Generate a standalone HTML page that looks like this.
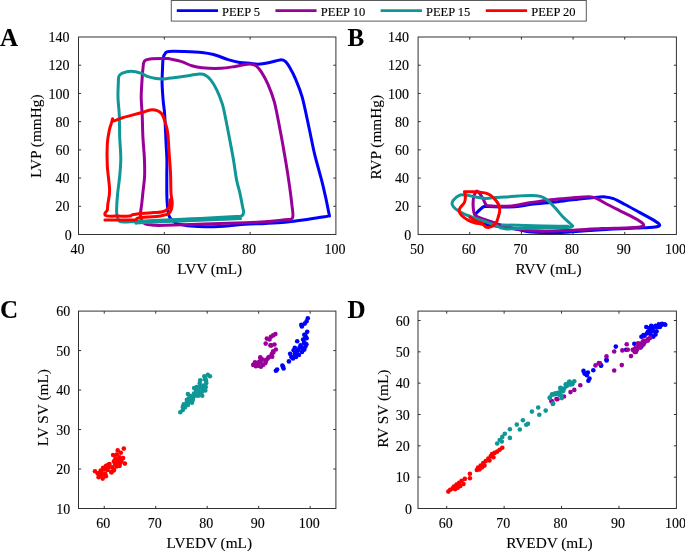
<!DOCTYPE html>
<html><head><meta charset="utf-8"><style>
html,body{margin:0;padding:0;background:#fff;}
svg{display:block;will-change:transform}
text{font-family:"Liberation Serif", serif;fill:#000;stroke:#000;stroke-width:0.12px}
.tl{font-size:14px}
.al{font-size:15.3px}
.lg{font-size:12.5px}
.pl{font-size:25px;font-weight:bold}
</style></head><body>
<svg width="685" height="551" viewBox="0 0 685 551">
<rect x="78.5" y="37.0" width="257.40" height="197.50" fill="none" stroke="#333333" stroke-width="1"/>
<path d="M164.30,234.5v-2.6M164.30,37.0v2.6M250.10,234.5v-2.6M250.10,37.0v2.6M78.5,206.29h2.6M335.9,206.29h-2.6M78.5,178.07h2.6M335.9,178.07h-2.6M78.5,149.86h2.6M335.9,149.86h-2.6M78.5,121.64h2.6M335.9,121.64h-2.6M78.5,93.43h2.6M335.9,93.43h-2.6M78.5,65.21h2.6M335.9,65.21h-2.6" stroke="#333333" stroke-width="1" fill="none"/>
<text x="77.50" y="254.10" text-anchor="middle" class="tl">40</text>
<text x="163.30" y="254.10" text-anchor="middle" class="tl">60</text>
<text x="249.10" y="254.10" text-anchor="middle" class="tl">80</text>
<text x="334.90" y="254.10" text-anchor="middle" class="tl">100</text>
<text x="71.70" y="239.60" text-anchor="end" class="tl">0</text>
<text x="69.50" y="211.39" text-anchor="end" class="tl">20</text>
<text x="69.50" y="183.17" text-anchor="end" class="tl">40</text>
<text x="69.50" y="154.96" text-anchor="end" class="tl">60</text>
<text x="69.50" y="126.74" text-anchor="end" class="tl">80</text>
<text x="69.50" y="98.53" text-anchor="end" class="tl">100</text>
<text x="69.50" y="70.31" text-anchor="end" class="tl">120</text>
<text x="69.50" y="42.10" text-anchor="end" class="tl">140</text>
<rect x="418.1" y="37.0" width="258.30" height="197.50" fill="none" stroke="#333333" stroke-width="1"/>
<path d="M469.76,234.5v-2.6M469.76,37.0v2.6M521.42,234.5v-2.6M521.42,37.0v2.6M573.08,234.5v-2.6M573.08,37.0v2.6M624.74,234.5v-2.6M624.74,37.0v2.6M418.1,206.29h2.6M676.4,206.29h-2.6M418.1,178.07h2.6M676.4,178.07h-2.6M418.1,149.86h2.6M676.4,149.86h-2.6M418.1,121.64h2.6M676.4,121.64h-2.6M418.1,93.43h2.6M676.4,93.43h-2.6M418.1,65.21h2.6M676.4,65.21h-2.6" stroke="#333333" stroke-width="1" fill="none"/>
<text x="417.10" y="254.10" text-anchor="middle" class="tl">50</text>
<text x="468.76" y="254.10" text-anchor="middle" class="tl">60</text>
<text x="520.42" y="254.10" text-anchor="middle" class="tl">70</text>
<text x="572.08" y="254.10" text-anchor="middle" class="tl">80</text>
<text x="623.74" y="254.10" text-anchor="middle" class="tl">90</text>
<text x="675.40" y="254.10" text-anchor="middle" class="tl">100</text>
<text x="411.30" y="239.60" text-anchor="end" class="tl">0</text>
<text x="409.10" y="211.39" text-anchor="end" class="tl">20</text>
<text x="409.10" y="183.17" text-anchor="end" class="tl">40</text>
<text x="409.10" y="154.96" text-anchor="end" class="tl">60</text>
<text x="409.10" y="126.74" text-anchor="end" class="tl">80</text>
<text x="409.10" y="98.53" text-anchor="end" class="tl">100</text>
<text x="409.10" y="70.31" text-anchor="end" class="tl">120</text>
<text x="409.10" y="42.10" text-anchor="end" class="tl">140</text>
<rect x="78.5" y="311.1" width="257.40" height="197.40" fill="none" stroke="#333333" stroke-width="1"/>
<path d="M104.24,508.5v-2.6M104.24,311.1v2.6M155.72,508.5v-2.6M155.72,311.1v2.6M207.20,508.5v-2.6M207.20,311.1v2.6M258.68,508.5v-2.6M258.68,311.1v2.6M310.16,508.5v-2.6M310.16,311.1v2.6M78.5,469.02h2.6M335.9,469.02h-2.6M78.5,429.54h2.6M335.9,429.54h-2.6M78.5,390.06h2.6M335.9,390.06h-2.6M78.5,350.58h2.6M335.9,350.58h-2.6" stroke="#333333" stroke-width="1" fill="none"/>
<text x="103.24" y="528.10" text-anchor="middle" class="tl">60</text>
<text x="154.72" y="528.10" text-anchor="middle" class="tl">70</text>
<text x="206.20" y="528.10" text-anchor="middle" class="tl">80</text>
<text x="257.68" y="528.10" text-anchor="middle" class="tl">90</text>
<text x="309.16" y="528.10" text-anchor="middle" class="tl">100</text>
<text x="70.30" y="513.60" text-anchor="end" class="tl">10</text>
<text x="70.30" y="474.12" text-anchor="end" class="tl">20</text>
<text x="70.30" y="434.64" text-anchor="end" class="tl">30</text>
<text x="70.30" y="395.16" text-anchor="end" class="tl">40</text>
<text x="70.30" y="355.68" text-anchor="end" class="tl">50</text>
<text x="70.30" y="316.20" text-anchor="end" class="tl">60</text>
<rect x="418.0" y="311.1" width="258.40" height="197.40" fill="none" stroke="#333333" stroke-width="1"/>
<path d="M446.71,508.5v-2.6M446.71,311.1v2.6M504.13,508.5v-2.6M504.13,311.1v2.6M561.56,508.5v-2.6M561.56,311.1v2.6M618.98,508.5v-2.6M618.98,311.1v2.6M418.0,477.17h2.6M676.4,477.17h-2.6M418.0,445.83h2.6M676.4,445.83h-2.6M418.0,414.50h2.6M676.4,414.50h-2.6M418.0,383.17h2.6M676.4,383.17h-2.6M418.0,351.83h2.6M676.4,351.83h-2.6M418.0,320.50h2.6M676.4,320.50h-2.6" stroke="#333333" stroke-width="1" fill="none"/>
<text x="445.71" y="528.10" text-anchor="middle" class="tl">60</text>
<text x="503.13" y="528.10" text-anchor="middle" class="tl">70</text>
<text x="560.56" y="528.10" text-anchor="middle" class="tl">80</text>
<text x="617.98" y="528.10" text-anchor="middle" class="tl">90</text>
<text x="675.40" y="528.10" text-anchor="middle" class="tl">100</text>
<text x="412.00" y="513.60" text-anchor="end" class="tl">0</text>
<text x="409.80" y="482.27" text-anchor="end" class="tl">10</text>
<text x="409.80" y="450.93" text-anchor="end" class="tl">20</text>
<text x="409.80" y="419.60" text-anchor="end" class="tl">30</text>
<text x="409.80" y="388.27" text-anchor="end" class="tl">40</text>
<text x="409.80" y="356.93" text-anchor="end" class="tl">50</text>
<text x="409.80" y="325.60" text-anchor="end" class="tl">60</text>
<text x="209.7" y="274.0" text-anchor="middle" class="al">LVV (mL)</text>
<text x="548.5" y="274.0" text-anchor="middle" class="al">RVV (mL)</text>
<text x="209.3" y="548.0" text-anchor="middle" class="al">LVEDV (mL)</text>
<text x="549.5" y="548.0" text-anchor="middle" class="al">RVEDV (mL)</text>
<text x="41" y="136.2" text-anchor="middle" class="al" transform="rotate(-90 41 136.2)">LVP (mmHg)</text>
<text x="381" y="137.2" text-anchor="middle" class="al" transform="rotate(-90 381 137.2)">RVP (mmHg)</text>
<text x="48" y="407.7" text-anchor="middle" class="al" transform="rotate(-90 48 407.7)">LV SV (mL)</text>
<text x="388" y="408.7" text-anchor="middle" class="al" transform="rotate(-90 388 408.7)">RV SV (mL)</text>
<text x="0" y="45.5" class="pl">A</text>
<text x="347.4" y="45.5" class="pl">B</text>
<text x="0" y="317.7" class="pl">C</text>
<text x="347.4" y="317.7" class="pl">D</text>
<path d="M172.90,220.70C172.23,219.83 169.88,219.00 168.90,215.50C167.92,212.00 167.35,206.45 167.00,199.70C166.65,192.95 166.82,181.62 166.80,175.00C166.78,168.38 167.02,165.17 166.90,160.00C166.78,154.83 166.47,151.50 166.10,144.00C165.73,136.50 165.18,122.17 164.70,115.00C164.22,107.83 163.63,106.23 163.20,101.00C162.77,95.77 162.22,88.93 162.10,83.60C161.98,78.27 162.32,73.27 162.50,69.00C162.68,64.73 162.70,60.67 163.20,58.00C163.70,55.33 164.53,54.10 165.50,53.00C166.47,51.90 165.83,51.65 169.00,51.40C172.17,51.15 179.02,51.33 184.50,51.50C189.98,51.67 197.05,51.90 201.90,52.40C206.75,52.90 209.23,53.30 213.60,54.50C217.97,55.70 223.75,58.27 228.10,59.60C232.45,60.93 236.05,61.90 239.70,62.50C243.35,63.10 246.93,62.92 250.00,63.20C253.07,63.48 254.85,64.32 258.10,64.20C261.35,64.08 265.83,63.22 269.50,62.50C273.17,61.78 277.52,60.12 280.10,59.90C282.68,59.68 283.37,59.88 285.00,61.20C286.63,62.52 288.13,64.80 289.90,67.80C291.67,70.80 293.55,74.30 295.60,79.20C297.65,84.10 299.88,88.73 302.20,97.20C304.52,105.67 307.40,120.38 309.50,130.00C311.60,139.62 312.58,145.75 314.80,154.90C317.02,164.05 320.47,175.25 322.80,184.90C325.13,194.55 327.85,207.62 328.80,212.80C329.75,217.98 329.83,215.27 328.50,216.00C327.17,216.73 324.73,216.57 320.80,217.20C316.87,217.83 310.88,218.97 304.90,219.80C298.92,220.63 291.55,221.60 284.90,222.20C278.25,222.80 271.65,223.07 265.00,223.40C258.35,223.73 251.82,223.73 245.00,224.20C238.18,224.67 231.97,225.80 224.10,226.20C216.23,226.60 205.47,226.97 197.80,226.60C190.13,226.23 182.25,224.98 178.10,224.00C173.95,223.02 173.77,221.25 172.90,220.70" fill="none" stroke="#0000ff" stroke-width="3.0" stroke-linejoin="round" stroke-linecap="round"/>
<path d="M141.10,219.40C141.00,218.42 140.40,216.03 140.50,213.50C140.60,210.97 141.30,207.70 141.70,204.20C142.10,200.70 142.42,197.20 142.90,192.50C143.38,187.80 144.35,181.65 144.60,176.00C144.85,170.35 144.68,165.13 144.40,158.60C144.12,152.07 143.27,144.07 142.90,136.80C142.53,129.53 142.48,121.45 142.20,115.00C141.92,108.55 141.27,103.33 141.20,98.10C141.13,92.87 141.52,88.45 141.80,83.60C142.08,78.75 142.47,72.75 142.90,69.00C143.33,65.25 143.18,62.78 144.40,61.10C145.62,59.42 146.33,59.32 150.20,58.90C154.07,58.48 164.30,58.60 167.60,58.60C170.90,58.60 167.67,58.40 170.00,58.90C172.33,59.40 177.97,60.45 181.60,61.60C185.23,62.75 188.42,64.77 191.80,65.80C195.18,66.83 197.07,67.38 201.90,67.80C206.73,68.22 215.23,68.53 220.80,68.30C226.37,68.07 231.18,67.05 235.30,66.40C239.42,65.75 242.80,64.77 245.50,64.40C248.20,64.03 249.68,63.92 251.50,64.20C253.32,64.48 254.77,64.82 256.40,66.10C258.03,67.38 259.38,68.90 261.30,71.90C263.22,74.90 265.72,79.07 267.90,84.10C270.08,89.13 272.37,94.45 274.40,102.10C276.43,109.75 278.68,122.85 280.10,130.00C281.52,137.15 281.60,137.52 282.90,145.00C284.20,152.48 286.40,164.93 287.90,174.90C289.40,184.87 291.13,197.65 291.90,204.80C292.67,211.95 293.67,215.30 292.50,217.80C291.33,220.30 289.48,219.13 284.90,219.80C280.32,220.47 271.65,221.30 265.00,221.80C258.35,222.30 255.10,222.43 245.00,222.80C234.90,223.17 217.73,223.58 204.40,224.00C191.07,224.42 173.50,225.10 165.00,225.30C156.50,225.50 156.70,225.42 153.40,225.20C150.10,224.98 147.25,224.97 145.20,224.00C143.15,223.03 141.78,220.17 141.10,219.40" fill="none" stroke="#990099" stroke-width="3.0" stroke-linejoin="round" stroke-linecap="round"/>
<path d="M117.20,217.00C117.10,215.83 116.55,213.67 116.60,210.00C116.65,206.33 116.98,200.67 117.50,195.00C118.02,189.33 119.15,182.07 119.70,176.00C120.25,169.93 120.80,165.13 120.80,158.60C120.80,152.07 119.95,144.07 119.70,136.80C119.45,129.53 119.58,121.45 119.30,115.00C119.02,108.55 118.17,103.33 118.00,98.10C117.83,92.87 118.15,87.23 118.30,83.60C118.45,79.97 118.23,78.05 118.90,76.30C119.57,74.55 120.23,73.95 122.30,73.10C124.37,72.25 128.10,71.15 131.30,71.20C134.50,71.25 138.83,72.55 141.50,73.40C144.17,74.25 144.88,75.45 147.30,76.30C149.72,77.15 153.35,78.07 156.00,78.50C158.65,78.93 160.03,79.07 163.20,78.90C166.37,78.73 171.45,77.93 175.00,77.50C178.55,77.07 180.50,76.87 184.50,76.30C188.50,75.73 195.62,74.35 199.00,74.10C202.38,73.85 202.85,73.83 204.80,74.80C206.75,75.77 208.75,77.47 210.70,79.90C212.65,82.33 214.57,85.40 216.50,89.40C218.43,93.40 220.73,98.80 222.30,103.90C223.87,109.00 224.65,113.98 225.90,120.00C227.15,126.02 228.53,133.33 229.80,140.00C231.07,146.67 232.37,153.33 233.50,160.00C234.63,166.67 235.53,174.48 236.60,180.00C237.67,185.52 238.92,188.72 239.90,193.10C240.88,197.48 241.88,203.07 242.50,206.30C243.12,209.53 243.77,210.88 243.60,212.50C243.43,214.12 242.77,215.33 241.50,216.00C240.23,216.67 239.98,216.23 236.00,216.50C232.02,216.77 225.05,217.22 217.60,217.60C210.15,217.98 200.07,218.40 191.30,218.80C182.53,219.20 174.23,219.55 165.00,220.00C155.77,220.45 142.70,221.17 135.90,221.50C129.10,221.83 126.93,222.05 124.20,222.00C121.47,221.95 120.67,222.03 119.50,221.20C118.33,220.37 117.58,217.70 117.20,217.00" fill="none" stroke="#0f9797" stroke-width="3.0" stroke-linejoin="round" stroke-linecap="round"/>
<path d="M240.50,218.50C236.68,218.67 225.80,219.15 217.60,219.50C209.40,219.85 200.07,220.25 191.30,220.60C182.53,220.95 173.55,221.23 165.00,221.60C156.45,221.97 144.85,222.53 140.00,222.80C135.15,223.07 136.58,223.13 135.90,223.20" fill="none" stroke="#0f9797" stroke-width="3.0" stroke-linejoin="round" stroke-linecap="round"/>
<path d="M104.90,220.00C109.67,220.00 128.15,220.27 133.50,220.00C138.85,219.73 135.63,218.80 137.00,218.40C138.37,218.00 137.80,218.02 141.70,217.60C145.60,217.18 155.92,216.58 160.40,215.90C164.88,215.22 166.75,214.67 168.60,213.50C170.45,212.33 170.90,210.82 171.50,208.90C172.10,206.98 172.28,204.65 172.20,202.00C172.12,199.35 171.28,197.83 171.00,193.00C170.72,188.17 170.83,179.95 170.50,173.00C170.17,166.05 169.47,158.02 169.00,151.30C168.53,144.58 168.40,137.75 167.70,132.70C167.00,127.65 165.77,124.12 164.80,121.00C163.83,117.88 163.17,115.73 161.90,114.00C160.63,112.27 159.15,111.27 157.20,110.60C155.25,109.93 152.92,109.63 150.20,110.00C147.48,110.37 145.37,111.55 140.90,112.80C136.43,114.05 127.98,116.13 123.40,117.50C118.82,118.87 115.20,120.80 113.40,121.00C111.60,121.20 112.88,118.50 112.60,118.70C112.32,118.90 112.25,120.25 111.70,122.20C111.15,124.15 110.03,126.77 109.30,130.40C108.57,134.03 107.63,138.10 107.30,144.00C106.97,149.90 106.92,158.10 107.30,165.80C107.68,173.50 109.52,183.80 109.60,190.20C109.68,196.60 108.18,200.90 107.80,204.20C107.42,207.50 107.78,208.45 107.30,210.00C106.82,211.55 105.00,212.52 104.90,213.50C104.80,214.48 104.45,215.47 106.70,215.90C108.95,216.33 114.52,216.07 118.40,216.10C122.28,216.13 127.67,216.33 130.00,216.10C132.33,215.87 130.45,215.13 132.40,214.70C134.35,214.27 138.20,213.85 141.70,213.50C145.20,213.15 149.90,212.88 153.40,212.60C156.90,212.32 160.27,212.42 162.70,211.80C165.13,211.18 166.83,209.97 168.00,208.90C169.17,207.83 169.32,206.97 169.70,205.40C170.08,203.83 170.20,200.48 170.30,199.50" fill="none" stroke="#ff0000" stroke-width="3.0" stroke-linejoin="round" stroke-linecap="round"/>
<path d="M475.70,215.00C475.70,214.78 474.35,215.10 475.70,213.70C477.05,212.30 481.77,207.78 483.80,206.60C485.83,205.42 482.70,206.57 487.90,206.60C493.10,206.63 507.77,207.18 515.00,206.80C522.23,206.42 524.20,205.15 531.30,204.30C538.40,203.45 548.85,202.68 557.60,201.70C566.35,200.72 577.23,199.13 583.80,198.40C590.37,197.67 593.43,197.55 597.00,197.30C600.57,197.05 602.47,196.67 605.20,196.90C607.93,197.13 610.10,197.43 613.40,198.70C616.70,199.97 620.73,202.27 625.00,204.50C629.27,206.73 634.52,209.67 639.00,212.10C643.48,214.53 648.58,217.15 651.90,219.10C655.22,221.05 657.73,222.63 658.90,223.80C660.07,224.97 659.87,225.52 658.90,226.10C657.93,226.68 656.80,226.97 653.10,227.30C649.40,227.63 643.32,227.80 636.70,228.10C630.08,228.40 621.18,228.70 613.40,229.10C605.62,229.50 599.30,229.92 590.00,230.50C580.70,231.08 567.38,232.37 557.60,232.60C547.82,232.83 538.40,232.50 531.30,231.90C524.20,231.30 522.92,230.33 515.00,229.00C507.08,227.67 489.97,225.57 483.80,223.90C477.63,222.23 479.35,220.48 478.00,219.00C476.65,217.52 476.08,215.67 475.70,215.00" fill="none" stroke="#0000ff" stroke-width="3.0" stroke-linejoin="round" stroke-linecap="round"/>
<path d="M476.70,191.20C477.03,191.38 477.68,191.10 478.70,192.30C479.72,193.50 481.60,196.37 482.80,198.40C484.00,200.43 484.87,203.27 485.90,204.50C486.93,205.73 485.82,205.50 489.00,205.80C492.18,206.10 500.67,206.35 505.00,206.30C509.33,206.25 510.62,206.12 515.00,205.50C519.38,204.88 525.30,203.57 531.30,202.60C537.30,201.63 544.43,200.47 551.00,199.70C557.57,198.93 564.35,198.48 570.70,198.00C577.05,197.52 584.72,196.68 589.10,196.80C593.48,196.92 593.93,197.42 597.00,198.70C600.07,199.98 603.80,202.55 607.50,204.50C611.20,206.45 615.30,208.45 619.20,210.40C623.10,212.35 627.40,214.35 630.90,216.20C634.40,218.05 638.07,220.03 640.20,221.50C642.33,222.97 643.70,224.10 643.70,225.00C643.70,225.90 643.32,226.42 640.20,226.90C637.08,227.38 631.42,227.63 625.00,227.90C618.58,228.17 610.75,228.12 601.70,228.50C592.65,228.88 580.25,229.75 570.70,230.20C561.15,230.65 552.85,231.32 544.40,231.20C535.95,231.08 527.03,230.45 520.00,229.50C512.97,228.55 506.18,226.52 502.20,225.50C498.22,224.48 498.82,224.33 496.10,223.40C493.38,222.47 489.30,221.17 485.90,219.90C482.50,218.63 477.75,217.33 475.70,215.80C473.65,214.27 474.03,212.92 473.60,210.70C473.17,208.48 473.02,205.07 473.10,202.50C473.18,199.93 473.50,197.18 474.10,195.30C474.70,193.42 476.27,191.88 476.70,191.20" fill="none" stroke="#990099" stroke-width="3.0" stroke-linejoin="round" stroke-linecap="round"/>
<path d="M572.70,226.00C572.37,225.67 572.35,225.53 570.70,224.00C569.05,222.47 565.43,219.53 562.80,216.80C560.17,214.07 557.53,210.45 554.90,207.60C552.27,204.75 549.40,201.57 547.00,199.70C544.60,197.83 543.12,197.12 540.50,196.40C537.88,195.68 535.03,195.47 531.30,195.40C527.57,195.33 522.48,195.72 518.10,196.00C513.72,196.28 508.67,196.87 505.00,197.10C501.33,197.33 499.28,197.18 496.10,197.40C492.92,197.62 489.30,198.48 485.90,198.40C482.50,198.32 479.12,197.45 475.70,196.90C472.28,196.35 468.13,195.37 465.40,195.10C462.67,194.83 461.33,194.42 459.30,195.30C457.27,196.18 454.38,198.87 453.20,200.40C452.02,201.93 451.87,203.13 452.20,204.50C452.53,205.87 453.33,207.07 455.20,208.60C457.07,210.13 459.98,212.08 463.40,213.70C466.82,215.32 471.95,216.93 475.70,218.30C479.45,219.67 482.50,220.70 485.90,221.90C489.30,223.10 493.55,224.48 496.10,225.50C498.65,226.52 499.50,227.42 501.20,228.00C502.90,228.58 503.50,228.92 506.30,229.00C509.10,229.08 511.72,228.67 518.00,228.50C524.28,228.33 535.67,228.17 544.00,228.00C552.33,227.83 563.22,227.83 568.00,227.50C572.78,227.17 571.92,226.25 572.70,226.00" fill="none" stroke="#0f9797" stroke-width="3.0" stroke-linejoin="round" stroke-linecap="round"/>
<path d="M502.20,225.00C504.85,225.05 511.07,225.13 518.10,225.30C525.13,225.47 536.07,225.85 544.40,226.00C552.73,226.15 564.15,226.17 568.10,226.20" fill="none" stroke="#0f9797" stroke-width="3.0" stroke-linejoin="round" stroke-linecap="round"/>
<path d="M464.40,191.80C466.28,191.80 471.78,191.47 475.70,191.80C479.62,192.13 484.85,192.70 487.90,193.80C490.95,194.90 492.22,196.62 494.00,198.40C495.78,200.18 497.65,202.45 498.60,204.50C499.55,206.55 499.73,208.70 499.70,210.70C499.67,212.70 498.93,214.62 498.40,216.50C497.87,218.38 497.32,220.50 496.50,222.00C495.68,223.50 494.72,224.62 493.50,225.50C492.28,226.38 490.53,227.08 489.20,227.30C487.87,227.52 486.60,227.28 485.50,226.80C484.40,226.32 484.40,225.08 482.60,224.40C480.80,223.72 477.12,223.42 474.70,222.70C472.28,221.98 470.28,221.30 468.10,220.10C465.92,218.90 463.10,217.02 461.60,215.50C460.10,213.98 459.32,212.32 459.10,211.00C458.88,209.68 459.42,209.02 460.30,207.60C461.18,206.18 463.55,204.37 464.40,202.50C465.25,200.63 465.40,198.18 465.40,196.40C465.40,194.62 464.57,192.57 464.40,191.80" fill="none" stroke="#ff0000" stroke-width="3.0" stroke-linejoin="round" stroke-linecap="round"/>
<path d="M470.00,217.20C470.83,217.77 472.95,219.58 475.00,220.60C477.05,221.62 481.08,222.85 482.30,223.30" fill="none" stroke="#ff0000" stroke-width="3.0" stroke-linejoin="round" stroke-linecap="round"/>
<g fill="#ff0000"><circle cx="123.8" cy="448.6" r="2.3"/><circle cx="117.7" cy="450.4" r="2.3"/><circle cx="120.8" cy="452.7" r="2.3"/><circle cx="113.1" cy="455" r="2.3"/><circle cx="116.8" cy="454.5" r="2.3"/><circle cx="123.1" cy="458.1" r="2.3"/><circle cx="119.5" cy="457.2" r="2.3"/><circle cx="115.9" cy="459.1" r="2.3"/><circle cx="114" cy="461.3" r="2.3"/><circle cx="124.9" cy="463.6" r="2.3"/><circle cx="120.4" cy="462.7" r="2.3"/><circle cx="119.5" cy="465.9" r="2.3"/><circle cx="114.9" cy="463.6" r="2.3"/><circle cx="109.5" cy="464" r="2.3"/><circle cx="106.8" cy="465.9" r="2.3"/><circle cx="114" cy="469.9" r="2.3"/><circle cx="111.3" cy="471.8" r="2.3"/><circle cx="107.7" cy="469.9" r="2.3"/><circle cx="103.1" cy="468.1" r="2.3"/><circle cx="95" cy="471.3" r="2.3"/><circle cx="97.7" cy="473.6" r="2.3"/><circle cx="101.3" cy="471.8" r="2.3"/><circle cx="105" cy="473.6" r="2.3"/><circle cx="105.9" cy="476.3" r="2.3"/><circle cx="102.7" cy="478.6" r="2.3"/><circle cx="98.6" cy="477.2" r="2.3"/><circle cx="100.9" cy="475.4" r="2.3"/><circle cx="108.6" cy="467.2" r="2.3"/><circle cx="112.2" cy="467.2" r="2.3"/><circle cx="115.5" cy="458.4" r="2.3"/><circle cx="118.9" cy="460.4" r="2.3"/><circle cx="121.5" cy="461.1" r="2.3"/><circle cx="115.5" cy="464.5" r="2.3"/><circle cx="108.8" cy="464.5" r="2.3"/><circle cx="104.1" cy="469.2" r="2.3"/><circle cx="101.4" cy="474.5" r="2.3"/><circle cx="105.4" cy="475.2" r="2.3"/><circle cx="111.5" cy="472.5" r="2.3"/><circle cx="113.5" cy="470.5" r="2.3"/><circle cx="119.5" cy="465.1" r="2.3"/><circle cx="117.5" cy="462.5" r="2.3"/><circle cx="116.5" cy="466.5" r="2.3"/><circle cx="103.4" cy="467.8" r="2.3"/><circle cx="106.1" cy="465.8" r="2.3"/><circle cx="100.7" cy="470.5" r="2.3"/><circle cx="98.1" cy="473.2" r="2.3"/></g>
<g fill="#0f9797"><circle cx="180.3" cy="412.2" r="2.3"/><circle cx="182.8" cy="410" r="2.3"/><circle cx="184.9" cy="407.4" r="2.3"/><circle cx="183.8" cy="404.3" r="2.3"/><circle cx="186.9" cy="401.8" r="2.3"/><circle cx="190" cy="399.7" r="2.3"/><circle cx="192" cy="402.8" r="2.3"/><circle cx="187.9" cy="394.1" r="2.3"/><circle cx="188.9" cy="398.2" r="2.3"/><circle cx="195.1" cy="395.7" r="2.3"/><circle cx="193" cy="398.7" r="2.3"/><circle cx="198.1" cy="395.7" r="2.3"/><circle cx="202.2" cy="395.7" r="2.3"/><circle cx="196.1" cy="392.6" r="2.3"/><circle cx="200.2" cy="392.6" r="2.3"/><circle cx="194.1" cy="388" r="2.3"/><circle cx="196.6" cy="387" r="2.3"/><circle cx="205.3" cy="390.5" r="2.3"/><circle cx="205.8" cy="387" r="2.3"/><circle cx="202.2" cy="388.5" r="2.3"/><circle cx="200.2" cy="380.3" r="2.3"/><circle cx="199.7" cy="383.4" r="2.3"/><circle cx="206.3" cy="382.9" r="2.3"/><circle cx="204.8" cy="379.3" r="2.3"/><circle cx="204.3" cy="376.2" r="2.3"/><circle cx="207.8" cy="374.7" r="2.3"/><circle cx="209.9" cy="376.2" r="2.3"/><circle cx="198.1" cy="389.5" r="2.3"/><circle cx="202.2" cy="391.6" r="2.3"/><circle cx="194" cy="393.6" r="2.3"/><circle cx="190" cy="398.7" r="2.3"/><circle cx="186.9" cy="399.7" r="2.3"/><circle cx="205.3" cy="378.3" r="2.3"/><circle cx="196.1" cy="390.5" r="2.3"/><circle cx="200.2" cy="386.5" r="2.3"/><circle cx="187.9" cy="404.9" r="2.3"/><circle cx="182.8" cy="406.9" r="2.3"/><circle cx="191" cy="396" r="2.3"/><circle cx="197" cy="393" r="2.3"/><circle cx="203.5" cy="385.5" r="2.3"/><circle cx="206" cy="380.5" r="2.3"/><circle cx="189" cy="402" r="2.3"/><circle cx="185" cy="405" r="2.3"/><circle cx="192.5" cy="400.5" r="2.3"/></g>
<g fill="#990099"><circle cx="275.4" cy="334.1" r="2.3"/><circle cx="273.1" cy="335.4" r="2.3"/><circle cx="270.9" cy="336.8" r="2.3"/><circle cx="266.8" cy="338.6" r="2.3"/><circle cx="269.5" cy="339.5" r="2.3"/><circle cx="265.7" cy="343.6" r="2.3"/><circle cx="271.3" cy="345.4" r="2.3"/><circle cx="274.5" cy="344.5" r="2.3"/><circle cx="275.8" cy="349.5" r="2.3"/><circle cx="273.1" cy="351.3" r="2.3"/><circle cx="271.8" cy="354" r="2.3"/><circle cx="272.2" cy="356.7" r="2.3"/><circle cx="269.5" cy="356.7" r="2.3"/><circle cx="267.7" cy="358.6" r="2.3"/><circle cx="265.9" cy="360.4" r="2.3"/><circle cx="265.4" cy="363.1" r="2.3"/><circle cx="263.1" cy="364.9" r="2.3"/><circle cx="260.9" cy="366.7" r="2.3"/><circle cx="260.4" cy="358.1" r="2.3"/><circle cx="260.4" cy="362.2" r="2.3"/><circle cx="257.7" cy="363.1" r="2.3"/><circle cx="255" cy="362.2" r="2.3"/><circle cx="253.2" cy="364.9" r="2.3"/><circle cx="255.9" cy="366.3" r="2.3"/><circle cx="258.6" cy="365.8" r="2.3"/><circle cx="259.2" cy="361.9" r="2.3"/><circle cx="262.7" cy="359.6" r="2.3"/><circle cx="268.6" cy="357.2" r="2.3"/><circle cx="273.3" cy="352.5" r="2.3"/><circle cx="256.8" cy="364.3" r="2.3"/><circle cx="260.3" cy="357.2" r="2.3"/><circle cx="270.4" cy="345.4" r="2.3"/><circle cx="266" cy="361" r="2.3"/></g>
<g fill="#0000ff"><circle cx="307.8" cy="318.3" r="2.3"/><circle cx="306.6" cy="321.2" r="2.3"/><circle cx="304.8" cy="323.6" r="2.3"/><circle cx="301.3" cy="324.8" r="2.3"/><circle cx="301.9" cy="326.5" r="2.3"/><circle cx="307.2" cy="331.8" r="2.3"/><circle cx="304.3" cy="334.8" r="2.3"/><circle cx="306" cy="337.2" r="2.3"/><circle cx="303.1" cy="339.5" r="2.3"/><circle cx="306.6" cy="338.3" r="2.3"/><circle cx="297.2" cy="341.3" r="2.3"/><circle cx="304.3" cy="342.5" r="2.3"/><circle cx="305.4" cy="346.6" r="2.3"/><circle cx="304.3" cy="349.6" r="2.3"/><circle cx="301.9" cy="347.8" r="2.3"/><circle cx="299.5" cy="347.8" r="2.3"/><circle cx="294.8" cy="347.8" r="2.3"/><circle cx="293.6" cy="350.2" r="2.3"/><circle cx="297.2" cy="351.3" r="2.3"/><circle cx="298.9" cy="354.9" r="2.3"/><circle cx="294.8" cy="353.7" r="2.3"/><circle cx="290.1" cy="353.7" r="2.3"/><circle cx="291.3" cy="356.7" r="2.3"/><circle cx="293" cy="358.4" r="2.3"/><circle cx="288.9" cy="361.4" r="2.3"/><circle cx="283" cy="366.7" r="2.3"/><circle cx="282.4" cy="365.5" r="2.3"/><circle cx="283.6" cy="368.5" r="2.3"/><circle cx="277.1" cy="369.6" r="2.3"/><circle cx="275.9" cy="370.8" r="2.3"/><circle cx="302.8" cy="349" r="2.3"/><circle cx="300.5" cy="345.4" r="2.3"/><circle cx="295.8" cy="354.9" r="2.3"/><circle cx="292.2" cy="357.2" r="2.3"/><circle cx="304" cy="343" r="2.3"/><circle cx="305.2" cy="338.3" r="2.3"/><circle cx="305.2" cy="334.8" r="2.3"/><circle cx="306.4" cy="344.2" r="2.3"/><circle cx="298.1" cy="350.1" r="2.3"/><circle cx="302" cy="352" r="2.3"/><circle cx="296" cy="357" r="2.3"/></g>
<g fill="#0000ff"><circle cx="583.5" cy="370.9" r="2.3"/><circle cx="584.6" cy="373.6" r="2.3"/><circle cx="587.9" cy="372.5" r="2.3"/><circle cx="586.8" cy="375.2" r="2.3"/><circle cx="589.5" cy="378.5" r="2.3"/><circle cx="588.4" cy="380.7" r="2.3"/><circle cx="593.3" cy="370.3" r="2.3"/><circle cx="601" cy="365.4" r="2.3"/><circle cx="606.6" cy="360.5" r="2.3"/><circle cx="646.3" cy="327" r="2.3"/><circle cx="651.2" cy="325.9" r="2.3"/><circle cx="652.3" cy="329.2" r="2.3"/><circle cx="647.9" cy="331.9" r="2.3"/><circle cx="655.5" cy="334.6" r="2.3"/><circle cx="653.3" cy="336.8" r="2.3"/><circle cx="658.8" cy="324.3" r="2.3"/><circle cx="662" cy="323.7" r="2.3"/><circle cx="665.3" cy="324.8" r="2.3"/><circle cx="657.7" cy="327" r="2.3"/><circle cx="650.1" cy="333.5" r="2.3"/><circle cx="641.4" cy="336.8" r="2.3"/><circle cx="644.6" cy="335.7" r="2.3"/><circle cx="634.3" cy="343.8" r="2.3"/><circle cx="641.4" cy="346.6" r="2.3"/><circle cx="626.1" cy="349.8" r="2.3"/><circle cx="615.8" cy="346.6" r="2.3"/><circle cx="606.5" cy="359.6" r="2.3"/><circle cx="601.1" cy="365.6" r="2.3"/><circle cx="649" cy="328.1" r="2.3"/><circle cx="654.4" cy="327" r="2.3"/><circle cx="653.3" cy="331.3" r="2.3"/><circle cx="650.1" cy="330.2" r="2.3"/><circle cx="651.2" cy="335.7" r="2.3"/><circle cx="646.8" cy="333.5" r="2.3"/><circle cx="643.5" cy="335.1" r="2.3"/><circle cx="656.6" cy="331.3" r="2.3"/><circle cx="655.5" cy="325.9" r="2.3"/><circle cx="661" cy="325.3" r="2.3"/><circle cx="664.2" cy="324.3" r="2.3"/><circle cx="659.9" cy="327" r="2.3"/></g>
<g fill="#990099"><circle cx="552" cy="401.4" r="2.3"/><circle cx="557.4" cy="399.2" r="2.3"/><circle cx="564" cy="396.5" r="2.3"/><circle cx="570.5" cy="392.1" r="2.3"/><circle cx="574.3" cy="389.9" r="2.3"/><circle cx="580.3" cy="385.3" r="2.3"/><circle cx="595.5" cy="365.4" r="2.3"/><circle cx="598.8" cy="363" r="2.3"/><circle cx="650.1" cy="337.9" r="2.3"/><circle cx="645.7" cy="341.1" r="2.3"/><circle cx="642.5" cy="342.2" r="2.3"/><circle cx="639.2" cy="343.8" r="2.3"/><circle cx="638.1" cy="346.6" r="2.3"/><circle cx="634.8" cy="348.7" r="2.3"/><circle cx="632.7" cy="349.8" r="2.3"/><circle cx="635.9" cy="352" r="2.3"/><circle cx="627.8" cy="349.8" r="2.3"/><circle cx="626.7" cy="344.2" r="2.3"/><circle cx="622.3" cy="350.4" r="2.3"/><circle cx="614.2" cy="351.5" r="2.3"/><circle cx="606.5" cy="356.4" r="2.3"/><circle cx="631" cy="356.1" r="2.3"/><circle cx="621.8" cy="365.1" r="2.3"/><circle cx="614.2" cy="370.5" r="2.3"/><circle cx="600" cy="363.4" r="2.3"/><circle cx="643.5" cy="340.6" r="2.3"/><circle cx="647.9" cy="339" r="2.3"/><circle cx="556.4" cy="399.1" r="2.3"/><circle cx="551.3" cy="401.1" r="2.3"/><circle cx="635.9" cy="347.7" r="2.3"/><circle cx="639.2" cy="345.5" r="2.3"/><circle cx="641.4" cy="343.8" r="2.3"/><circle cx="644.6" cy="342.2" r="2.3"/><circle cx="647.9" cy="340.6" r="2.3"/><circle cx="637" cy="349.8" r="2.3"/><circle cx="633.7" cy="350.4" r="2.3"/><circle cx="640.3" cy="347.7" r="2.3"/><circle cx="643.5" cy="344.4" r="2.3"/><circle cx="638.1" cy="343.3" r="2.3"/><circle cx="634.8" cy="352" r="2.3"/></g>
<g fill="#0f9797"><circle cx="497.2" cy="443.5" r="2.3"/><circle cx="499.7" cy="440" r="2.3"/><circle cx="501.8" cy="441.5" r="2.3"/><circle cx="502.3" cy="436.9" r="2.3"/><circle cx="504.8" cy="433.8" r="2.3"/><circle cx="509.9" cy="437.9" r="2.3"/><circle cx="509.9" cy="429.2" r="2.3"/><circle cx="516.8" cy="424.6" r="2.3"/><circle cx="519.8" cy="429.5" r="2.3"/><circle cx="522.9" cy="420.3" r="2.3"/><circle cx="526.3" cy="424.8" r="2.3"/><circle cx="528" cy="423.8" r="2.3"/><circle cx="531.9" cy="411.6" r="2.3"/><circle cx="538.2" cy="407.5" r="2.3"/><circle cx="539.3" cy="414.7" r="2.3"/><circle cx="545.7" cy="410.6" r="2.3"/><circle cx="549.8" cy="397.9" r="2.3"/><circle cx="552.8" cy="404" r="2.3"/><circle cx="549.8" cy="397.6" r="2.3"/><circle cx="552" cy="394.3" r="2.3"/><circle cx="553.1" cy="403.5" r="2.3"/><circle cx="555.2" cy="393.2" r="2.3"/><circle cx="558" cy="392.7" r="2.3"/><circle cx="560.7" cy="387.8" r="2.3"/><circle cx="560.7" cy="391.6" r="2.3"/><circle cx="561.8" cy="398.1" r="2.3"/><circle cx="563.4" cy="389.4" r="2.3"/><circle cx="566.1" cy="386.1" r="2.3"/><circle cx="568.8" cy="382.3" r="2.3"/><circle cx="570.5" cy="384.5" r="2.3"/><circle cx="572.7" cy="382.9" r="2.3"/><circle cx="574.3" cy="381.2" r="2.3"/><circle cx="559.1" cy="394.8" r="2.3"/><circle cx="561.3" cy="391.3" r="2.3"/><circle cx="564.1" cy="388.6" r="2.3"/><circle cx="566.8" cy="385.9" r="2.3"/><circle cx="569.5" cy="384.3" r="2.3"/><circle cx="572.2" cy="384.3" r="2.3"/><circle cx="558.6" cy="393" r="2.3"/><circle cx="555.9" cy="394.1" r="2.3"/><circle cx="561.3" cy="395.7" r="2.3"/><circle cx="565.7" cy="384.3" r="2.3"/><circle cx="569.5" cy="381.5" r="2.3"/><circle cx="560.2" cy="388.1" r="2.3"/><circle cx="553.2" cy="394.6" r="2.3"/><circle cx="563" cy="391.3" r="2.3"/></g>
<g fill="#ff0000"><circle cx="448.3" cy="491.6" r="2.3"/><circle cx="450.2" cy="489.7" r="2.3"/><circle cx="452.7" cy="488.4" r="2.3"/><circle cx="455.2" cy="489.1" r="2.3"/><circle cx="454" cy="486.5" r="2.3"/><circle cx="456.5" cy="484.6" r="2.3"/><circle cx="459.1" cy="482.7" r="2.3"/><circle cx="461.6" cy="480.8" r="2.3"/><circle cx="464.8" cy="478.9" r="2.3"/><circle cx="463.5" cy="484" r="2.3"/><circle cx="460.3" cy="485.9" r="2.3"/><circle cx="457.8" cy="487.8" r="2.3"/><circle cx="469.9" cy="473.8" r="2.3"/><circle cx="469.9" cy="478.3" r="2.3"/><circle cx="476.8" cy="470" r="2.3"/><circle cx="478.1" cy="467.5" r="2.3"/><circle cx="480.7" cy="465.6" r="2.3"/><circle cx="483.2" cy="463" r="2.3"/><circle cx="485.7" cy="461.1" r="2.3"/><circle cx="488.3" cy="458.6" r="2.3"/><circle cx="490.8" cy="456" r="2.3"/><circle cx="492.1" cy="454.1" r="2.3"/><circle cx="494.6" cy="452.9" r="2.3"/><circle cx="497.2" cy="451.6" r="2.3"/><circle cx="499.7" cy="449.7" r="2.3"/><circle cx="502.3" cy="447.8" r="2.3"/><circle cx="481.9" cy="467.5" r="2.3"/><circle cx="484.5" cy="465.6" r="2.3"/><circle cx="489.5" cy="460.5" r="2.3"/><circle cx="493.4" cy="457.3" r="2.3"/><circle cx="479.4" cy="469.4" r="2.3"/></g>
<rect x="171.3" y="0.5" width="415" height="20.6" fill="#fff" stroke="#5a5a5a" stroke-width="1"/>
<line x1="176.8" y1="10.7" x2="218.0" y2="10.7" stroke="#0000ff" stroke-width="2.8"/>
<text x="222.0" y="16" class="lg">PEEP 5</text>
<line x1="275.4" y1="10.7" x2="316.6" y2="10.7" stroke="#990099" stroke-width="2.8"/>
<text x="320.8" y="16" class="lg">PEEP 10</text>
<line x1="380.6" y1="10.7" x2="421.9" y2="10.7" stroke="#0f9797" stroke-width="2.8"/>
<text x="426.0" y="16" class="lg">PEEP 15</text>
<line x1="485.8" y1="10.7" x2="527.1" y2="10.7" stroke="#ff0000" stroke-width="2.8"/>
<text x="531.2" y="16" class="lg">PEEP 20</text>
</svg>
</body></html>
